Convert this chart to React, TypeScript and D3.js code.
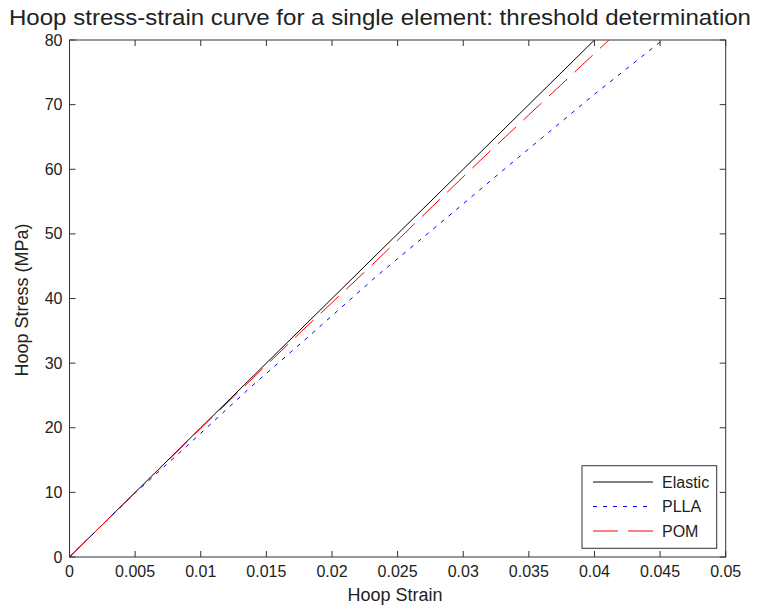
import React from "react";
import * as d3 from "d3";

const xTicks = [0, 0.005, 0.01, 0.015, 0.02, 0.025, 0.03, 0.035, 0.04, 0.045, 0.05];
const yTicks = [0, 10, 20, 30, 40, 50, 60, 70, 80];

const elasticStrain = [0, 0.01, 0.02, 0.03, 0.04];
const elasticStress = [0, 20, 40, 60, 80];

const pllaStrain = [0, 0.0025, 0.005, 0.0088, 0.01376, 0.01818, 0.02351, 0.02763, 0.03342, 0.04, 0.0452];
const pllaStress = [0, 5, 9.9, 16.9, 26.2, 34.05, 43.65, 50.6, 60.5, 71.6, 80];

const pomStrain = [0, 0.01, 0.01772, 0.02306, 0.02763, 0.03152, 0.0411];
const pomStress = [0, 19.9, 35.0, 45.2, 54.2, 61.8, 80];

const seriesNames = ["Elastic", "PLLA", "POM"];

const W = 759, H = 609;
const L = 69.5, R = 725.7, T = 40, B = 557;
const font = "'Liberation Sans', Arial, sans-serif";
const axisColor = "#333";

export default function App() {
  const x = d3.scaleLinear().domain([0, 0.05]).range([L, R]);
  const y = d3.scaleLinear().domain([0, 80]).range([B, T]);
  const line = d3.line<[number, number]>().x(d => x(d[0])).y(d => y(d[1]));
  const zip = (a: number[], b: number[]) => a.map((v, i) => [v, b[i]] as [number, number]);
  const series = [
    { name: seriesNames[0], pts: zip(elasticStrain, elasticStress), color: "#000", dash: "none" },
    { name: seriesNames[1], pts: zip(pllaStrain, pllaStress), color: "#0000ff", dash: "4 6" },
    { name: seriesNames[2], pts: zip(pomStrain, pomStress), color: "#ff0000", dash: "25 10" },
  ];
  const tk = 6;
  return (
    <svg width={W} height={H} style={{ position: "absolute", left: 0, top: 0, background: "#fff" }}>
      <rect x={0} y={0} width={W} height={H} fill="#fff" />
      <defs>
        <clipPath id="plotclip">
          <rect x={L} y={T} width={R - L} height={B - T} />
        </clipPath>
      </defs>
      <g clipPath="url(#plotclip)">
        {series.map(s => (
          <path key={s.name} d={line(s.pts) || ""} fill="none" stroke={s.color} strokeWidth={1} strokeDasharray={s.dash} />
        ))}
      </g>
      <rect x={L} y={T} width={R - L} height={B - T} fill="none" stroke={axisColor} strokeWidth={1} />
      {xTicks.map(t => (
        <g key={"x" + t}>
          <line x1={x(t)} x2={x(t)} y1={B} y2={B - tk} stroke={axisColor} />
          <line x1={x(t)} x2={x(t)} y1={T} y2={T + tk} stroke={axisColor} />
          <text x={x(t)} y={576.5} textAnchor="middle" fontFamily={font} fontSize={16} fill="#222">{String(t)}</text>
        </g>
      ))}
      {yTicks.map(t => (
        <g key={"y" + t}>
          <line x1={L} x2={L + tk} y1={y(t)} y2={y(t)} stroke={axisColor} />
          <line x1={R} x2={R - tk} y1={y(t)} y2={y(t)} stroke={axisColor} />
          <text x={62.5} y={y(t) + 5.5} textAnchor="end" fontFamily={font} fontSize={16} fill="#222">{String(t)}</text>
        </g>
      ))}
      <text x={380} y={25} textAnchor="middle" fontFamily={font} fontSize={22} fill="#222" textLength={742} lengthAdjust="spacingAndGlyphs">
        Hoop stress-strain curve for a single element: threshold determination
      </text>
      <text x={395} y={601} textAnchor="middle" fontFamily={font} fontSize={18} fill="#222">Hoop Strain</text>
      <text transform={`translate(28,300) rotate(-90)`} textAnchor="middle" fontFamily={font} fontSize={18} fill="#222">Hoop Stress (MPa)</text>
      <g>
        <rect x={582} y={465.7} width={134.7} height={82.6} fill="#fff" stroke={axisColor} strokeWidth={1} />
        {series.map((s, i) => {
          const yy = 482 + i * 24.5;
          return (
            <g key={"lg" + s.name}>
              <line x1={593} x2={653} y1={yy} y2={yy} stroke={s.color} strokeWidth={1} strokeDasharray={s.dash} />
              <text x={662} y={yy + 5.5} fontFamily={font} fontSize={16} fill="#222">{s.name}</text>
            </g>
          );
        })}
      </g>
    </svg>
  );
}
